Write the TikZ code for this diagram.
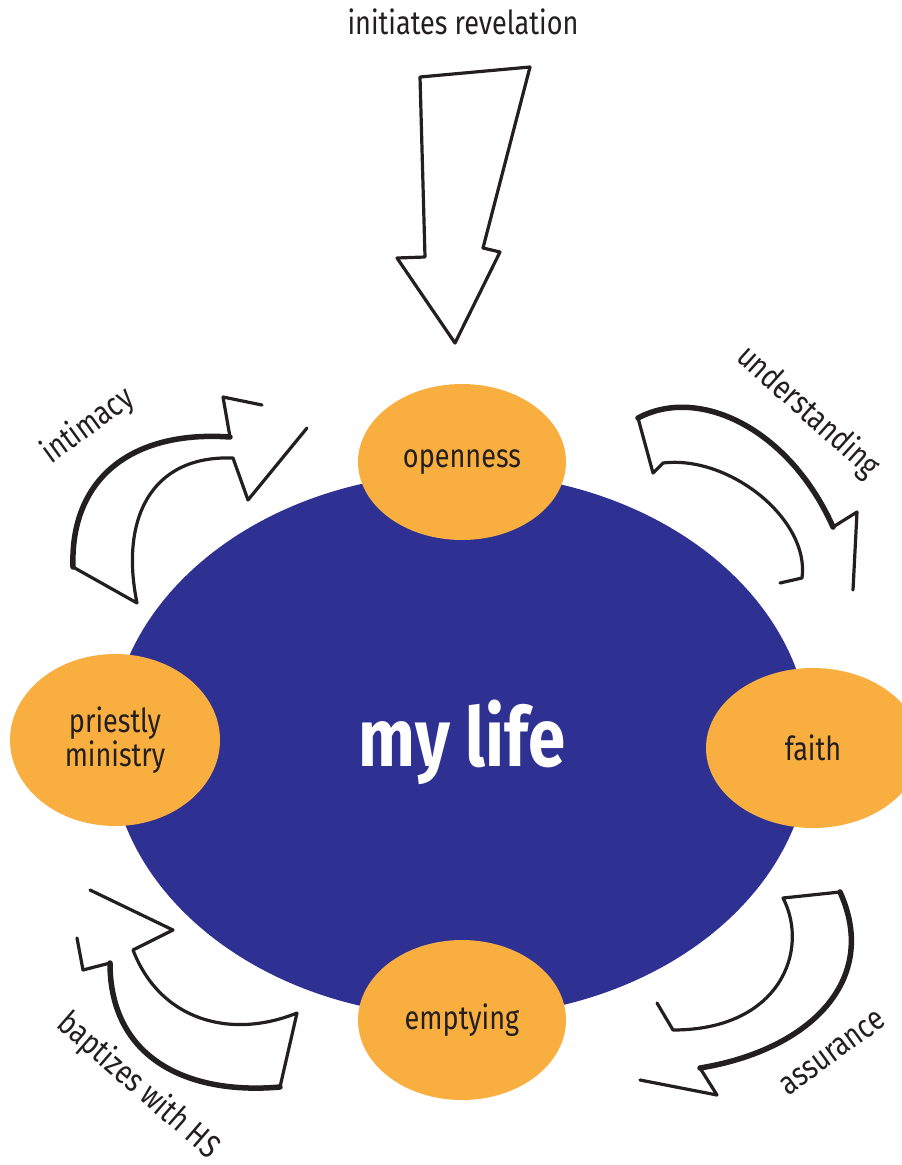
\documentclass[tikz,border=0pt]{standalone}
\usepackage{fontspec}
\setmainfont{Fira Sans}[FakeStretch=0.82]
\definecolor{lifeblue}{HTML}{2E3192}
\definecolor{orng}{HTML}{F9AE40}
\definecolor{ink}{HTML}{231F20}
\tikzset{
  bubble/.style={ellipse, fill=orng, inner sep=0pt, align=center, font=\fontsize{33}{36}\selectfont, text=ink},
  lbl/.style={font=\fontsize{33}{36}\selectfont, text=ink, inner sep=0pt},
  sketch/.style={draw=ink, line width=3.2pt, line join=round, line cap=round, fill=white},
  heavy/.style={draw=ink, line width=5.5pt, line cap=round},
}
\usetikzlibrary{shapes.geometric}
\begin{document}
\begin{tikzpicture}[x=1pt,y=-1pt]
\useasboundingbox (0,0) rectangle (902,1165);
% big ellipse
\node[ellipse, fill=lifeblue, minimum width=700, minimum height=544, inner sep=0pt] (life) at (460,745) {};
\node[font=\bfseries\fontsize{82}{86}\selectfont, text=white] (lifet) at (462,742) {my life};
% orange ellipses
\node[bubble, minimum width=208, minimum height=156] (open) at (462,462) {openness};
\node[bubble, minimum width=214, minimum height=160] (faith) at (813,748) {faith};
\node[bubble, minimum width=210, minimum height=172] (priest) at (115,740) {priestly\\[-2pt]ministry};
\node[bubble, minimum width=208, minimum height=160] (empty) at (462,1020) {emptying};
% top arrow
\node[lbl] (rev) at (463,22) {initiates revelation};
\draw[sketch] (420,77) -- (530,67) -- (483,248) -- (500,252) -- (455,343) -- (397,258) -- (425,257) -- cycle;
% understanding arrow
\draw[sketch] (853,590) -- (857,512) -- (833,527) .. controls (790,430) and (700,385) .. (638,418)
  -- (653,473) -- (663,463) .. controls (730,455) and (810,520) .. (802,578) -- (780,583);
\draw[heavy] (833,527) .. controls (790,430) and (700,385) .. (638,418);
\node[lbl, rotate=-42] (und) at (808,412) {understanding};
% intimacy arrow
\draw[sketch] (262,405) -- (223,397) -- (230,437) .. controls (130,430) and (70,480) .. (73,567)
  -- (137,603) .. controls (120,520) and (150,455) .. (233,458) -- (248,500) -- (307,428);
\draw[heavy] (230,437) .. controls (130,430) and (70,480) .. (73,567);
\node[lbl, rotate=36] (inti) at (88,426) {intimacy};
% assurance arrow
\draw[sketch] (640,1080) -- (717,1095) -- (700,1068) .. controls (810,1050) and (880,980) .. (840,892)
  -- (783,898) .. controls (810,950) and (780,1030) .. (673,1030) -- (657,1003);
\draw[heavy] (700,1068) .. controls (810,1050) and (880,980) .. (840,892);
\node[lbl, rotate=36] (assu) at (833,1053) {assurance};
% baptizes arrow
\draw[sketch] (90,890) -- (173,930) -- (133,950) .. controls (160,1020) and (230,1040) .. (297,1013)
  -- (280,1087) .. controls (190,1095) and (110,1060) .. (110,963) -- (83,970) -- (77,938);
\draw[heavy] (280,1087) .. controls (190,1095) and (110,1060) .. (110,963);
\node[lbl, rotate=-41] (bapt) at (138,1086) {baptizes with HS};
\end{tikzpicture}
\end{document}
